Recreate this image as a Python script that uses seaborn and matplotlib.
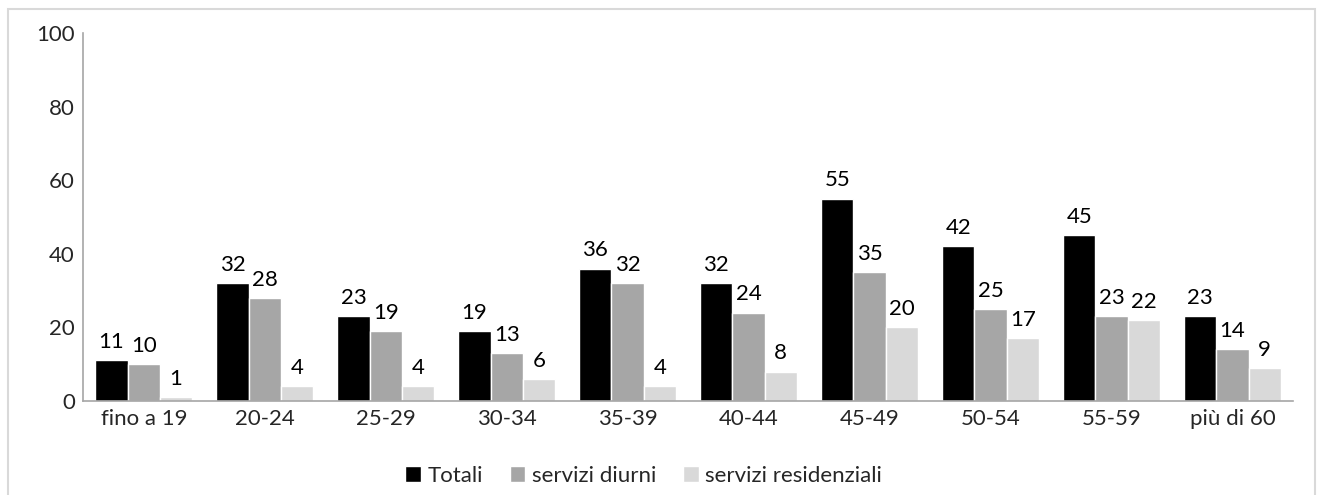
import seaborn as sns
import pandas as pd
import matplotlib.pyplot as plt
from matplotlib.patches import Rectangle

categories = ["fino a 19", "20-24", "25-29", "30-34", "35-39",
              "40-44", "45-49", "50-54", "55-59", "più di 60"]
totali = [11, 32, 23, 19, 36, 32, 55, 42, 45, 23]
diurni = [10, 28, 19, 13, 32, 24, 35, 25, 23, 14]
residenziali = [1, 4, 4, 6, 4, 8, 20, 17, 22, 9]
series_names = ["Totali", "servizi diurni", "servizi residenziali"]
colors = ["#000000", "#a6a6a6", "#d9d9d9"]

rows = []
for name, vals in zip(series_names, [totali, diurni, residenziali]):
    for c, v in zip(categories, vals):
        rows.append({"fascia": c, "valore": v, "serie": name})
df = pd.DataFrame(rows)

sns.set_style("white")
plt.rcParams['font.family'] = ['Lato', 'DejaVu Sans']
fs = 16

fig = plt.figure(figsize=(13.22, 4.95), dpi=100)
ax = fig.add_axes([0.063, 0.19, 0.915, 0.743])

sns.barplot(data=df, x="fascia", y="valore", hue="serie", order=categories,
            hue_order=series_names, palette=colors, width=0.8,
            saturation=1, ax=ax, legend=True)

for cont in ax.containers:
    ax.bar_label(cont, padding=6, fontsize=fs, color="#000000")

ax.set_ylim(0, 100)
ax.set_yticks([0, 20, 40, 60, 80, 100])
ax.set_xlim(-0.5, len(categories) - 0.5)
ax.tick_params(axis="both", labelsize=fs, length=0, pad=6)
ax.set_xlabel("")
ax.set_ylabel("")
for s in ["top", "right"]:
    ax.spines[s].set_visible(False)
for s in ["left", "bottom"]:
    ax.spines[s].set_color("#a6a6a6")
    ax.spines[s].set_linewidth(1.2)

handles, labels = ax.get_legend_handles_labels()
ax.get_legend().remove()
fig.legend(handles, labels, loc="upper center", bbox_to_anchor=(0.487, 0.10),
           ncol=3, frameon=False, fontsize=fs, handlelength=0.7, handleheight=0.7,
           handletextpad=0.3, columnspacing=1.2)

fig.patches.append(Rectangle((0.006, -0.05), 0.989, 1.032, transform=fig.transFigure,
                             fill=False, edgecolor="#d9d9d9", linewidth=1.5))

fig.savefig("out.png", dpi=100)
